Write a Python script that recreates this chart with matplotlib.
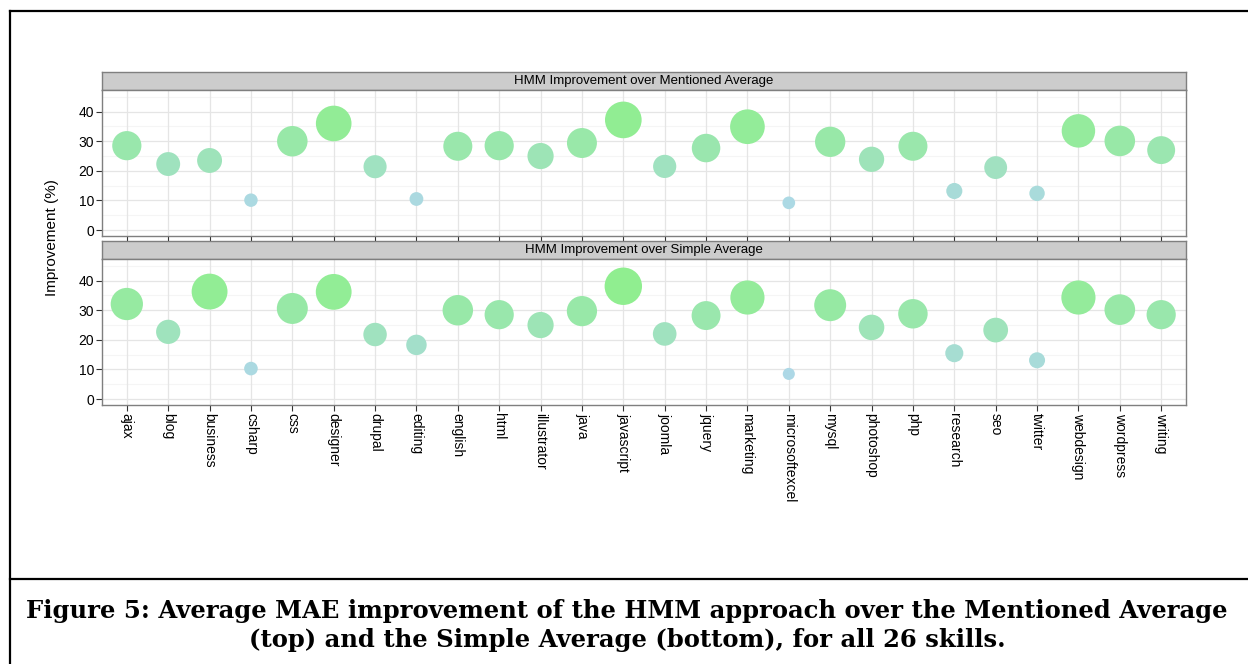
import numpy as np
import matplotlib
matplotlib.use("Agg")
import matplotlib.pyplot as plt
from matplotlib.colors import to_rgb
from matplotlib.lines import Line2D

skills = ["ajax", "blog", "business", "csharp", "css", "designer", "drupal", "editing",
          "english", "html", "illustrator", "java", "javascript", "joomla", "jquery",
          "marketing", "microsoftexcel", "mysql", "photoshop", "php", "research", "seo",
          "twitter", "webdesign", "wordpress", "writing"]
mentioned_avg = [28.5, 22.3, 23.5, 10.1, 30.0, 36.0, 21.4, 10.5, 28.3, 28.5, 25.0, 29.4, 37.2,
                 21.5, 27.7, 34.9, 9.2, 29.8, 23.9, 28.3, 13.2, 21.1, 12.4, 33.5, 30.1, 27.0]
simple_avg = [32.1, 22.7, 36.3, 10.3, 30.6, 36.2, 21.8, 18.3, 30.0, 28.5, 25.0, 29.7, 38.1,
              22.0, 28.2, 34.3, 8.5, 31.7, 24.2, 28.8, 15.5, 23.3, 13.1, 34.3, 30.2, 28.5]
panel_titles = ["HMM Improvement over Mentioned Average", "HMM Improvement over Simple Average"]
y_ticks = [0, 10, 20, 30, 40]

W, H = 1248, 664
fig = plt.figure(figsize=(W / 100, H / 100), dpi=100)
plt.rcParams['font.family'] = ['Liberation Sans', 'DejaVu Sans']

def box(x0, y0, x1, y1):
    return [x0 / W, 1 - y1 / H, (x1 - x0) / W, (y1 - y0) / H]

allv = np.array(mentioned_avg + simple_avg)
vmin, vmax = allv.min(), allv.max()
low = np.array(to_rgb("#ADD8E6"))
high = np.array(to_rgb("#90EE90"))

def colour(v):
    t = (v - vmin) / (vmax - vmin)
    return tuple(low + (high - low) * t)

def size(v):
    d_px = 0.856 * v + 4.8
    return (d_px * 0.72) ** 2

panels = [(72, 90, 236), (241, 259, 405)]
xs = np.arange(len(skills))
for (ys, y0, y1), vals, title in zip(panels, [mentioned_avg, simple_avg], panel_titles):
    # strip
    sax = fig.add_axes(box(102, ys, 1186, y0))
    sax.set_facecolor("#CCCCCC")
    sax.set_xticks([]); sax.set_yticks([])
    for s in sax.spines.values():
        s.set_color("#7F7F7F"); s.set_linewidth(1.0)
    sax.text(0.5, 0.5, title, ha="center", va="center", fontsize=9.5, transform=sax.transAxes)

    ax = fig.add_axes(box(102, y0, 1186, y1))
    ax.set_xlim(-0.6, len(skills) - 1 + 0.6)
    ax.set_ylim(-2.0, 47.3)
    for m in [5, 15, 25, 35, 45]:
        ax.axhline(m, color="#F5F5F5", lw=0.8, zorder=0)
    for t in y_ticks:
        ax.axhline(t, color="#E5E5E5", lw=0.9, zorder=0.5)
    for x in xs:
        ax.axvline(x, color="#E5E5E5", lw=0.9, zorder=0.5)
    v = np.array(vals)
    ax.scatter(xs, v, s=[size(a) for a in v], c=[colour(a) for a in v],
               linewidths=0, zorder=3)
    ax.set_yticks(y_ticks)
    ax.set_yticklabels([str(t) for t in y_ticks], fontsize=10)
    ax.set_xticks(xs)
    if ys == 241:
        ax.set_xticklabels(skills, rotation=-90, fontsize=10, va="top", ha="center")
    else:
        ax.set_xticklabels([])
    ax.tick_params(direction="out", length=4, color="#333333", width=0.8, pad=1.5)
    for s in ax.spines.values():
        s.set_color("#7F7F7F"); s.set_linewidth(1.0)

fig.text(52 / W, 1 - 238 / H, "Improvement (%)", rotation=90, ha="center", va="center",
         fontsize=11)

# outer frame lines
fig.add_artist(Line2D([10 / W, 10 / W], [0, 1 - 11 / H], color="black", lw=1.6,
                      transform=fig.transFigure))
fig.add_artist(Line2D([10 / W, 1], [1 - 11 / H, 1 - 11 / H], color="black", lw=1.6,
                      transform=fig.transFigure))
fig.add_artist(Line2D([10 / W, 1], [1 - 579 / H, 1 - 579 / H], color="black", lw=1.6,
                      transform=fig.transFigure))

fig.text(627 / W, 1 - 611 / H,
         "Figure 5: Average MAE improvement of the HMM approach over the Mentioned Average",
         ha="center", va="center", fontsize=17.5, fontweight="bold", family="DejaVu Serif")
fig.text(627 / W, 1 - 640 / H,
         "(top) and the Simple Average (bottom), for all 26 skills.",
         ha="center", va="center", fontsize=17.5, fontweight="bold", family="DejaVu Serif")

fig.savefig("out.png", dpi=100)
